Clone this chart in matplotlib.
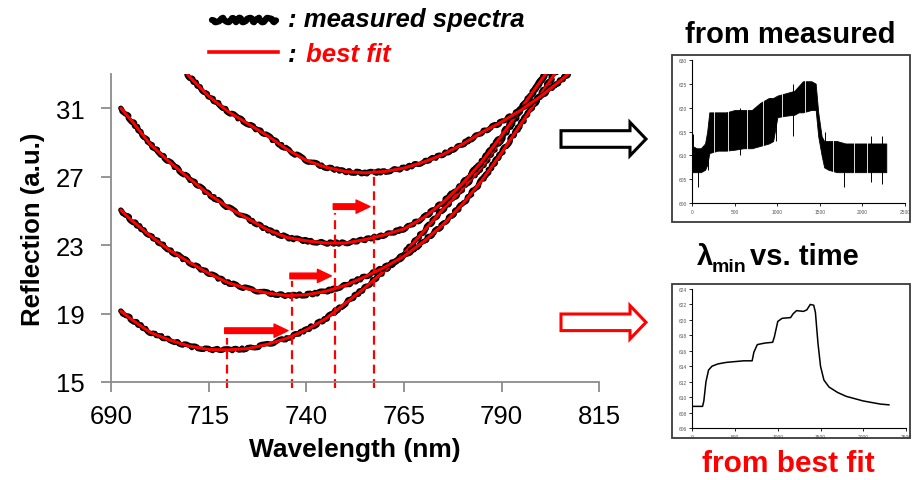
import matplotlib
matplotlib.use('Agg')
import matplotlib.pyplot as plt
from matplotlib.patches import FancyArrow, Rectangle

plt.rcParams['font.family'] = ['Liberation Sans', 'DejaVu Sans']

# spectra: wavelength (nm) vs reflection (a.u.), measured and fit overlap
wl = [692.5, 695, 700, 705, 710, 715, 720, 725, 730, 735, 740, 745, 750,
      755, 760, 765, 770, 775, 780, 785, 790, 795, 800, 805, 810]
refl_1 = [19.15, 18.7, 17.9, 17.45, 17.1, 16.9, 16.88, 16.95, 17.2, 17.55, 18.05, 18.7, 19.6,
          20.5, 21.5, 22.5, 23.8, 25.1, 26.3, 27.6, 29.2, 30.9, 32.6, 34.3, 36.0]
refl_2 = [25.05, 24.5, 23.55, 22.7, 22.0, 21.35, 20.8, 20.45, 20.2, 20.05, 20.1, 20.3, 20.65,
          21.15, 21.7, 22.35, 23.2, 24.2, 25.4, 26.8, 28.4, 30.1, 31.8, 33.5, 35.2]
refl_3 = [31.0, 30.35, 28.9, 27.85, 26.9, 25.98, 25.2, 24.55, 23.9, 23.45, 23.25, 23.12, 23.12,
          23.32, 23.6, 23.95, 24.6, 25.5, 26.6, 27.9, 29.4, 31.0, 32.6, 34.2, 35.8]
wl_4 = [708, 710, 715, 720, 725, 730, 735, 740, 745, 750, 755, 760, 765,
        770, 775, 780, 785, 790, 795, 800, 805, 810]
refl_4 = [33.6, 32.85, 31.7, 30.8, 30.1, 29.4, 28.6, 27.95, 27.55, 27.3, 27.22, 27.3, 27.5,
          27.85, 28.3, 28.9, 29.6, 30.2, 30.9, 31.7, 32.6, 33.6]

# minima of the fits and the shift arrows
lam_min = [719.6, 736.3, 747.4, 757.3]
dash_top = [17.55, 20.9, 24.9, 27.45]
shift_y = [18.0, 21.2, 25.25]

# lambda_min vs time, from measured spectra (noisy band)
t_meas = [0, 50, 100, 150, 175, 200, 300, 400, 500, 600, 700, 800, 900, 950, 1000, 1100,
          1200, 1250, 1300, 1400, 1450, 1480, 1520, 1550, 1600, 1700, 1800, 1900, 2000,
          2100, 2200, 2280]
meas_hi = [612, 611.5, 611.5, 612.5, 615, 619, 619, 619, 619.5, 619.5, 619.5, 621, 622, 622,
           622.5, 623, 623.5, 624.5, 625.5, 625.5, 625, 619, 614, 613, 613, 613, 612.5,
           612.5, 612.5, 612.5, 612.5, 612.5]
meas_lo = [606.5, 606.5, 606.5, 607, 608, 610.5, 611, 611, 611.2, 611.5, 611.5, 612, 612.5,
           613, 618, 618.3, 618.5, 619, 619, 619.5, 619.5, 614, 610, 607.5, 607, 606.5,
           606.5, 606.5, 606.5, 606.5, 606.5, 606.5]
spike_t = [10, 70, 180, 560, 980, 1180, 1560, 1780, 2100, 2230]
spike_lo = [609, 603.5, 607, 610, 613, 614, 609, 603.5, 604.5, 604]
spike_hi = [614.5, 609, 613, 620, 621, 625, 615, 611, 614, 614]
# thin white gaps seen inside the band
gap_t = [260, 420, 640, 830, 1060, 1330, 1650, 1900, 2050]

# lambda_min vs time, from best fit
t_fit = [0, 120, 135, 160, 190, 230, 300, 400, 500, 600, 700, 720, 760, 850, 940, 960, 1000,
         1050, 1150, 1180, 1220, 1300, 1340, 1380, 1420, 1440, 1470, 1500, 1540, 1600, 1700,
         1800, 1900, 2000, 2100, 2200, 2300]
lam_fit = [608.8, 608.8, 609.5, 612.0, 613.5, 614.0, 614.3, 614.5, 614.6, 614.7, 614.7, 615.8,
           616.8, 617.0, 617.1, 617.8, 619.8, 620.2, 620.3, 620.8, 621.2, 621.1, 621.3, 622.0,
           621.9, 621.0, 617.0, 614.0, 612.2, 611.3, 610.6, 610.1, 609.8, 609.5, 609.3,
           609.1, 609.0]

W, H = 913, 481
fig = plt.figure(figsize=(W / 100, H / 100), dpi=100)


def frac(x0, y0, x1, y1):
    # pixel box (top-left origin) -> figure fraction rect
    return [x0 / W, 1 - y1 / H, (x1 - x0) / W, (y1 - y0) / H]


# main spectra plot
ax = fig.add_axes(frac(111, 75, 599.3, 383))
for x, y in [(wl, refl_1), (wl, refl_2), (wl, refl_3), (wl_4, refl_4)]:
    meas, = ax.plot(x, y, color='black', lw=3.8, solid_capstyle='round')
    meas.set_sketch_params(1.1, 14, 6)
    ax.plot(x, y, color='red', lw=2.2, solid_capstyle='round')

for lm, top in zip(lam_min, dash_top):
    ax.plot([lm, lm], [14.65, top], color='red', lw=1.6, ls=(0, (4, 2.5)), clip_on=False)
for i, y in enumerate(shift_y):
    ax.annotate('', xy=(lam_min[i + 1] - 1.0, y), xytext=(lam_min[i] - 0.5, y),
                arrowprops=dict(arrowstyle='simple,head_length=1.0,head_width=0.95,tail_width=0.4',
                                color='red', shrinkA=0, shrinkB=0, mutation_scale=10))

ax.set_xlim(690, 815)
ax.set_ylim(15, 33)
ax.set_xticks([690, 715, 740, 765, 790, 815])
ax.set_yticks([15, 19, 23, 27, 31])
for s in ['top', 'right']:
    ax.spines[s].set_visible(False)
for s in ['left', 'bottom']:
    ax.spines[s].set_color('#8c8c8c')
    ax.spines[s].set_linewidth(1.3)
ax.tick_params(axis='both', length=7, width=1.3, color='#8c8c8c', labelsize=18.5)
ax.tick_params(axis='y', pad=12)
ax.tick_params(axis='x', pad=9)
ax.set_xlabel('Wavelength (nm)', fontsize=19, fontweight='bold', labelpad=6)
ax.set_ylabel('Reflection (a.u.)', fontsize=18.5, fontweight='bold', labelpad=8)

# small time-trace insets
ins1 = fig.add_axes(frac(692.3, 60.7, 905, 204.3))
ins1.fill_between(t_meas, meas_lo, meas_hi, color='black', lw=0.6)
ins1.vlines(gap_t, 600, 630, color='white', lw=0.6)
ins1.vlines(spike_t, spike_lo, spike_hi, color='black', lw=0.7)
ins1.set_xlim(0, 2500)
ins1.set_ylim(600, 630)
ins1.set_yticks(range(600, 631, 5))

ins2 = fig.add_axes(frac(692.3, 290, 906, 429))
ins2.plot(t_fit, lam_fit, color='black', lw=1.1)
ins2.set_xlim(0, 2500)
ins2.set_ylim(606, 624)
ins2.set_yticks(range(606, 625, 2))

for a in (ins1, ins2):
    a.set_xticks(range(0, 2501, 500))
    for s in ['top', 'right']:
        a.spines[s].set_visible(False)
    for s in ['left', 'bottom']:
        a.spines[s].set_linewidth(0.8)
    a.tick_params(length=2, width=0.6, labelsize=3.5, labelcolor='#555555', pad=2)

# overlay in pixel coordinates for legend, frames, arrows and captions
ov = fig.add_axes([0, 0, 1, 1])
ov.set_xlim(0, W)
ov.set_ylim(H, 0)
ov.axis('off')

leg, = ov.plot([212, 276], [21, 21], color='black', lw=4.5, solid_capstyle='round')
leg.set_sketch_params(2.2, 14, 4)
ov.plot([209, 278], [53, 53], color='red', lw=2.6)
ov.text(288, 27, ': measured spectra', fontsize=18.5, fontweight='bold', style='italic',
        va='baseline')
ov.text(288, 62, ':', fontsize=18.5, fontweight='bold', style='italic', va='baseline')
ov.text(306, 62, 'best fit', fontsize=18.5, fontweight='bold', style='italic', color='red',
        va='baseline')

ov.add_patch(Rectangle((671.5, 55.5), 238, 167.5, fill=False, ec='#3a3a3a', lw=1.3))
ov.add_patch(Rectangle((671.5, 285), 238, 154, fill=False, ec='#3a3a3a', lw=1.3))

ov.add_patch(FancyArrow(561, 140, 85, 0, width=16.6, head_width=33.4, head_length=16,
                        length_includes_head=True, fc='white', ec='black', lw=2.2))
ov.add_patch(FancyArrow(561, 323.3, 85, 0, width=16.6, head_width=33.4, head_length=16,
                        length_includes_head=True, fc='white', ec='red', lw=2.2))

ov.text(790, 43, 'from measured', fontsize=21, fontweight='bold', ha='center', va='baseline')
ov.text(697, 265, 'λ', fontsize=21, fontweight='bold', va='baseline')
ov.text(712, 272, 'min', fontsize=14, fontweight='bold', va='baseline')
ov.text(750, 265, 'vs. time', fontsize=21, fontweight='bold', va='baseline')
ov.text(788, 472, 'from best fit', fontsize=21.5, fontweight='bold', color='red',
        ha='center', va='baseline')

fig.savefig('out.png', dpi=100)
